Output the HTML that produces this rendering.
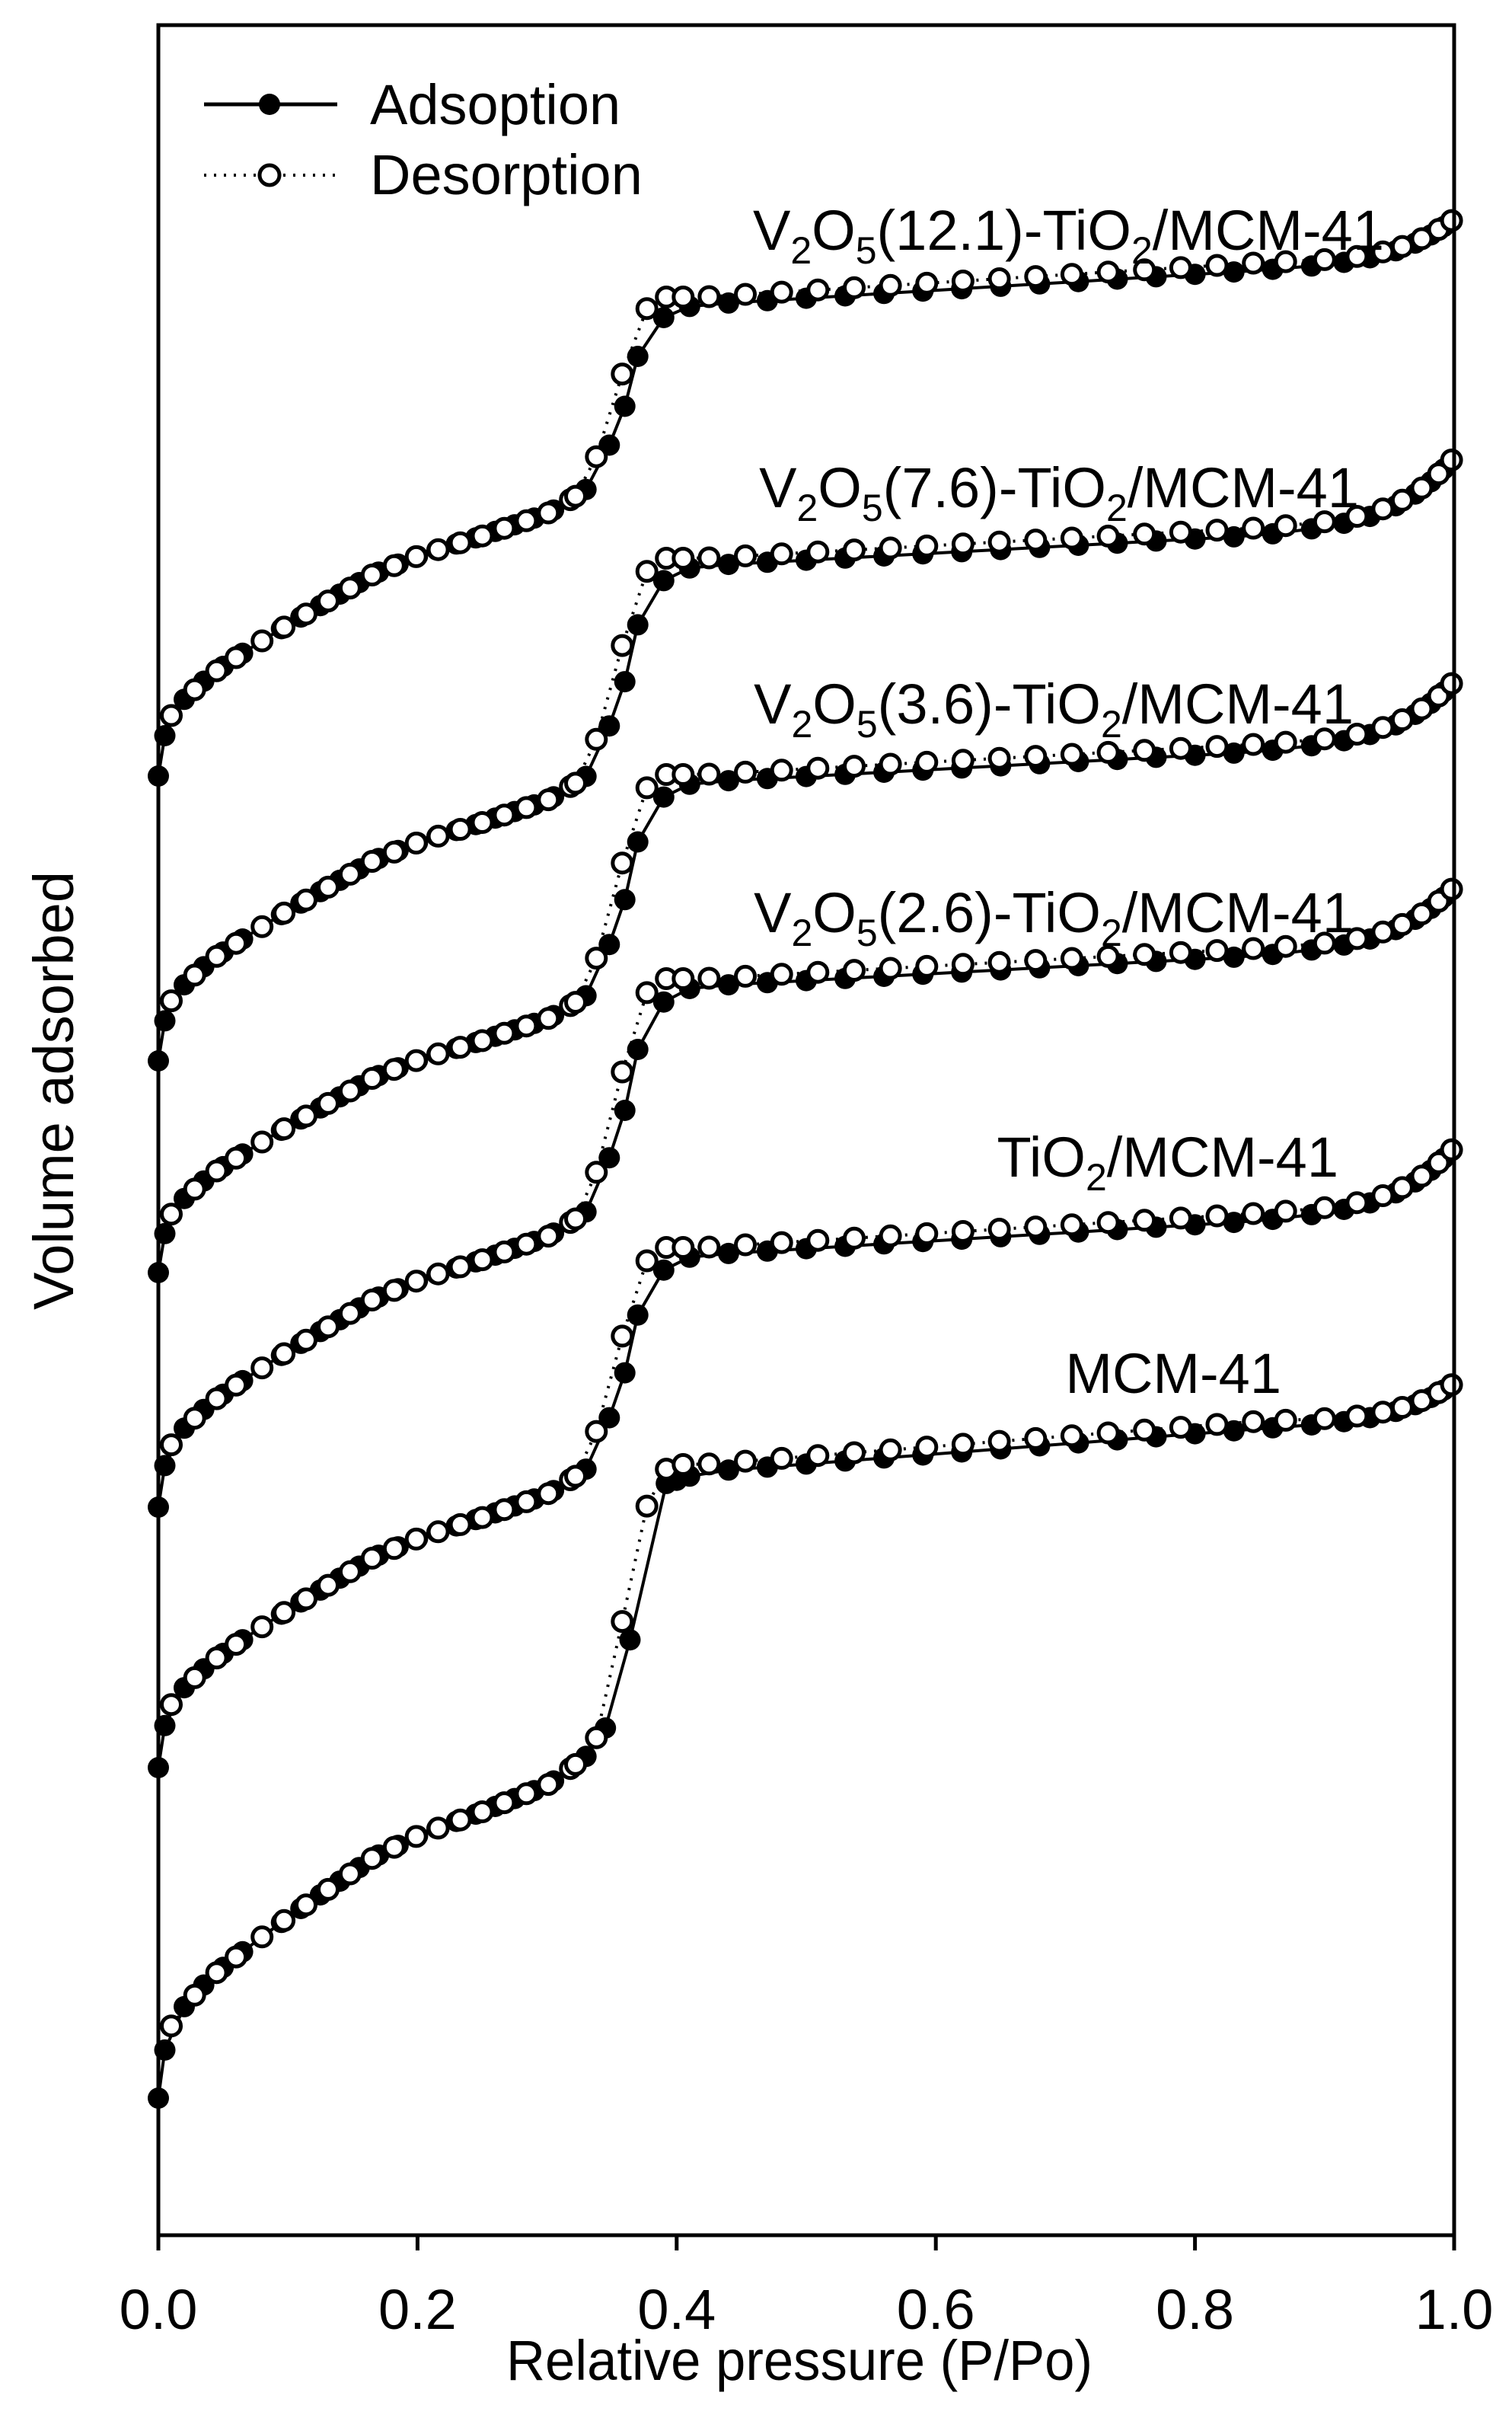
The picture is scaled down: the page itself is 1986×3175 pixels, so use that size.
<!DOCTYPE html>
<html><head><meta charset="utf-8"><style>html,body{margin:0;padding:0;background:#fff}svg{display:block}</style></head>
<body>
<svg id="s" xmlns="http://www.w3.org/2000/svg" width="1986" height="3175" viewBox="0 0 1986 3175" font-family="'Liberation Sans', Arial, sans-serif">
<rect width="1986" height="3175" fill="#fff"/>
<g id="plot"></g>
<rect x="208" y="33" width="1702" height="2902" fill="none" stroke="#000" stroke-width="5"/>
<g stroke="#000" stroke-width="5">
<line x1="208" y1="2935" x2="208" y2="2955"/><line x1="548.4" y1="2935" x2="548.4" y2="2955"/>
<line x1="888.8" y1="2935" x2="888.8" y2="2955"/><line x1="1229.2" y1="2935" x2="1229.2" y2="2955"/>
<line x1="1569.6" y1="2935" x2="1569.6" y2="2955"/><line x1="1910" y1="2935" x2="1910" y2="2955"/>
</g>
<g font-size="74" text-anchor="middle">
<text x="208" y="3058">0.0</text><text x="548.4" y="3058">0.2</text><text x="888.8" y="3058">0.4</text>
<text x="1229.2" y="3058">0.6</text><text x="1569.6" y="3058">0.8</text><text x="1910" y="3058">1.0</text>
</g>
<text x="665" y="3125" font-size="74" textLength="770" lengthAdjust="spacingAndGlyphs">Relative pressure (P/Po)</text>
<text transform="translate(96,1720) rotate(-90)" font-size="74" textLength="576" lengthAdjust="spacingAndGlyphs">Volume adsorbed</text>
<line x1="268" y1="137" x2="443" y2="137" stroke="#000" stroke-width="5"/>
<circle cx="354" cy="137" r="14" fill="#000"/>
<text x="486" y="163" font-size="74">Adsoption</text>
<line x1="268" y1="230" x2="443" y2="230" stroke="#000" stroke-width="4" stroke-dasharray="3 10"/>
<circle cx="354" cy="230" r="13" fill="#fff" stroke="#000" stroke-width="5"/>
<text x="486" y="255" font-size="74">Desorption</text>
<g font-size="74" text-anchor="end">
<text x="1818" y="328">V<tspan font-size="50" dy="18">2</tspan><tspan dy="-18">O</tspan><tspan font-size="50" dy="18">5</tspan><tspan dy="-18">(12.1)-TiO</tspan><tspan font-size="50" dy="18">2</tspan><tspan dy="-18">/MCM-41</tspan></text>
<text x="1785" y="666">V<tspan font-size="50" dy="18">2</tspan><tspan dy="-18">O</tspan><tspan font-size="50" dy="18">5</tspan><tspan dy="-18">(7.6)-TiO</tspan><tspan font-size="50" dy="18">2</tspan><tspan dy="-18">/MCM-41</tspan></text>
<text x="1778" y="950">V<tspan font-size="50" dy="18">2</tspan><tspan dy="-18">O</tspan><tspan font-size="50" dy="18">5</tspan><tspan dy="-18">(3.6)-TiO</tspan><tspan font-size="50" dy="18">2</tspan><tspan dy="-18">/MCM-41</tspan></text>
<text x="1778" y="1224">V<tspan font-size="50" dy="18">2</tspan><tspan dy="-18">O</tspan><tspan font-size="50" dy="18">5</tspan><tspan dy="-18">(2.6)-TiO</tspan><tspan font-size="50" dy="18">2</tspan><tspan dy="-18">/MCM-41</tspan></text>
<text x="1758" y="1545">TiO<tspan font-size="50" dy="18">2</tspan><tspan dy="-18">/MCM-41</tspan></text>
<text x="1683" y="1829">MCM-41</text>
</g>
</svg>
<script>
(function(){
var NS="http://www.w3.org/2000/svg";
var g=document.getElementById('plot');
function X(p){return 208+1702*p;}
function interp(tab,p){
  if(p<=tab[0][0])return tab[0][1];
  for(var i=1;i<tab.length;i++){ if(p<=tab[i][0]){var a=tab[i-1],b=tab[i];return a[1]+(b[1]-a[1])*(p-a[0])/(b[0]-a[0]);} }
  return tab[tab.length-1][1];
}
var G=[[0,0],[0.005,0.2],[0.01,0.3],[0.02,0.38],[0.04,0.5],[0.07,0.63],[0.1,0.75],[0.166,1.0],[0.2,1.09],[0.25,1.19],[0.3,1.3],[0.311,1.34],[0.33,1.42]];
var G33=1.42;
var SA=[[0.33,0],[0.348,0.24],[0.36,0.45],[0.37,0.72],[0.39,0.93],[0.40,0.98],[0.42,1]];
var SAm=[[0.33,0],[0.345,0.1],[0.364,0.41],[0.392,0.96],[0.42,1]];
var SD=[[0.33,0],[0.335,0.1],[0.35,0.45],[0.358,0.6],[0.377,0.94],[0.39,1.0],[0.42,1]];
var SDm=[[0.33,0],[0.34,0.08],[0.355,0.4],[0.38,0.92],[0.395,1],[0.42,1]];
var curves=[
 [1019,754,355,287,45,0],[1393,1130,703,600,40,0],[1671,1415,987,894,40,0],
 [1979,1706,1255,1164,40,0],[2321,2045,1603,1506,45,0],[2755,2439,1876,1816,57,1]];
function Y(c,p,des){
  var S=c[0],u=c[0]-c[1],Y85=c[2],E=c[3],P42=c[2]+c[4],m=c[5];
  if(p<=0.33) return S-u*interp(G,p);
  var y33=S-u*G33;
  if(p<=0.42){ var s=interp(des?(m?SDm:SD):(m?SAm:SA),p); return y33+(P42-y33)*s - (des?10*s:0);}
  var off=des?10:0;
  if(p<=0.85) return P42+(Y85-P42)*(p-0.42)/0.43-off;
  var t=(p-0.85)/0.15; var f=0.3*t+0.7*Math.pow(t,4);
  return Y85+(E-Y85)*f-off*(1-t);
}
var pa=[0,0.005,0.02,0.035,0.05,0.065,0.08,0.095];
for(var p=0.11;p<0.325;p+=0.015)pa.push(+p.toFixed(3));
pa=pa.concat([0.33,0.348,0.36,0.37,0.39,0.41]);
for(var p=0.44;p<0.85;p+=0.03)pa.push(+p.toFixed(3));
pa=pa.concat([0.86,0.89,0.915,0.935,0.955,0.97,0.982,0.992,0.998]);
var pd=[0.01,0.028,0.045,0.06];
for(var p=0.08;p<0.32;p+=0.017)pd.push(+p.toFixed(3));
pd=pd.concat([0.322,0.338,0.358,0.377,0.392,0.405]);
for(var p=0.425;p<0.85;p+=0.028)pd.push(+p.toFixed(3));
pd=pd.concat([0.87,0.9,0.925,0.945,0.96,0.975,0.988,0.998]);
function el(n,a){var e=document.createElementNS(NS,n);for(var k in a)e.setAttribute(k,a[k]);g.appendChild(e);return e;}
curves.forEach(function(c){
  var m=c[5];
  var pts=pa.slice(); if(m){var i=pts.indexOf(0.348);pts[i]=0.345;i=pts.indexOf(0.36);pts[i]=0.364;i=pts.indexOf(0.37);pts[i]=0.392;i=pts.indexOf(0.39);pts[i]=0.40;}
  var dline=pd.map(function(p){return X(p).toFixed(1)+','+Y(c,p,1).toFixed(1);}).join(' ');
  el('polyline',{points:dline,fill:'none',stroke:'#000','stroke-width':4,'stroke-dasharray':'3 10'});
  var aline=pts.map(function(p){return X(p).toFixed(1)+','+Y(c,p,0).toFixed(1);}).join(' ');
  el('polyline',{points:aline,fill:'none',stroke:'#000','stroke-width':4});
  pts.forEach(function(p){el('circle',{cx:X(p).toFixed(1),cy:Y(c,p,0).toFixed(1),r:14,fill:'#000'});});
  pd.forEach(function(p){el('circle',{cx:X(p).toFixed(1),cy:Y(c,p,1).toFixed(1),r:12.5,fill:'#fff',stroke:'#000','stroke-width':5});});
});
})();
</script>
</body></html>
